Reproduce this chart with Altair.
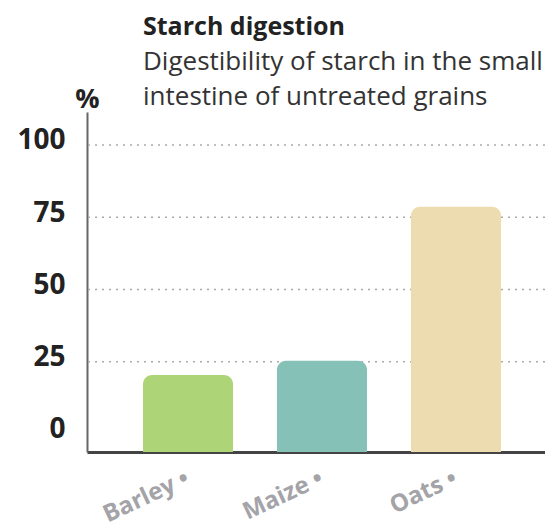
import altair as alt
import pandas as pd

grains = ["Barley", "Maize", "Oats"]
digestibility = [20.4, 25.3, 78.6]
colors = ["#aed478", "#85c1b7", "#ecdcb0"]
y_ticks = [0, 25, 50, 75, 100]
grid_values = [25, 50, 75, 100]

df = pd.DataFrame({"grain": grains, "value": digestibility})
grid_df = pd.DataFrame({"g": grid_values})

Y_MIN, Y_MAX = -6.26, 111.4
FONT = "Open Sans"

yscale = alt.Scale(domain=[Y_MIN, Y_MAX], nice=False, zero=False)

y_axis = alt.Axis(
    values=y_ticks,
    title="%",
    titleAngle=0,
    titleX=0,
    titleY=-5,
    titleAlign="center",
    titleBaseline="alphabetic",
    titleFont=FONT,
    titleFontSize=27,
    titleFontWeight="bold",
    titleColor="#222222",
    labelFont=FONT,
    labelFontSize=28,
    labelFontWeight="bold",
    labelColor="#222222",
    labelPadding=22,
    labelOffset=-4,
    ticks=False,
    grid=False,
    domainColor="#666666",
    domainWidth=2,
)

grid = alt.Chart(grid_df).mark_rule(
    color="#aaaaaa", strokeDash=[2, 5], strokeWidth=1.5
).encode(y=alt.Y("g:Q", scale=yscale, axis=y_axis))

bars = alt.Chart(df).mark_bar(
    cornerRadiusTopLeft=9, cornerRadiusTopRight=9
).encode(
    x=alt.X(
        "grain:N",
        sort=grains,
        scale=alt.Scale(paddingInner=0.328, paddingOuter=0.373, align=0.56),
        axis=alt.Axis(
            title=None,
            labelAngle=335,
            labelAlign="right",
            labelBaseline="middle",
            labelFont=FONT,
            labelFontSize=24,
            labelFontWeight="bold",
            labelColor="#a3a3a8",
            labelPadding=25,
            labelExpr="datum.label + '  •'",
            ticks=False,
            domainColor="#444444",
            domainWidth=3,
            grid=False,
        ),
    ),
    y=alt.Y("value:Q", scale=yscale, axis=y_axis),
    y2=alt.datum(Y_MIN),
    color=alt.Color("grain:N", scale=alt.Scale(domain=grains, range=colors), legend=None),
)

chart = alt.layer(grid, bars).properties(
    width=458,
    height=340,
    autosize=alt.AutoSizeParams(type="none"),
    padding={"left": 79, "top": 104, "right": 0, "bottom": 78},
    title=alt.TitleParams(
        text="Starch digestion",
        subtitle=["Digestibility of starch in the small", "intestine of untreated grains"],
        anchor="start",
        frame="group",
        dx=56,
        dy=27,
        offset=2,
        font=FONT,
        fontSize=25,
        fontWeight="bold",
        color="#222222",
        subtitleFont=FONT,
        subtitleFontSize=26,
        subtitleFontWeight="normal",
        subtitleColor="#333333",
        subtitleLineHeight=35,
        subtitlePadding=9,
    ),
).configure_view(stroke=None)

chart.save("out.html", embed_options={"renderer": "svg", "actions": False})
